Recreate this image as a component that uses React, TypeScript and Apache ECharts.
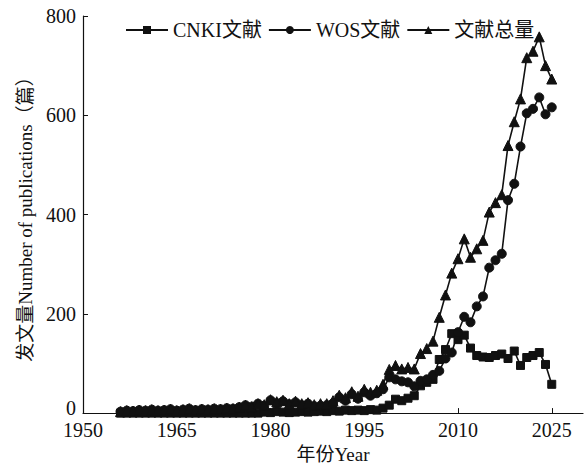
import React, { useEffect, useRef } from "react";
import * as echarts from "echarts";

const startYear = 1956;
const xTickValues = [1950, 1965, 1980, 1995, 2010, 2025];
const yTickValues = [0, 200, 400, 600, 800];

const cnkiValues = [
  0, 0, 0, 0, 0, 0, 0, 0, 0, 0,
  0, 0, 0, 0, 0, 0, 0, 0, 0, 0,
  0, 0, 0, 2, 1, 3, 2, 1, 2, 3,
  2, 3, 4, 3, 5, 4, 6, 5, 6, 5,
  7, 6, 10, 16, 28, 25, 30, 35, 55, 62,
  68, 108, 128, 160, 148, 157, 131, 116, 113, 112,
  116, 119, 110, 125, 96, 112, 116, 122, 98, 58,
];

const wosValues = [
  3, 5, 4, 6, 5, 7, 5, 6, 8, 5,
  7, 9, 6, 8, 7, 9, 8, 10, 9, 12,
  16, 13, 19, 15, 26, 20, 24, 18, 22, 16,
  19, 14, 15, 16, 20, 32, 25, 38, 29, 42,
  35, 40, 48, 72, 68, 64, 62, 54, 65, 68,
  77, 85, 110, 122, 163, 194, 183, 215, 235, 293,
  308, 321, 429, 462, 537, 604, 613, 636, 602, 616,
];

const totalValues = [
  3, 5, 4, 6, 5, 7, 5, 6, 8, 5,
  7, 9, 6, 8, 7, 9, 8, 10, 9, 12,
  16, 13, 19, 17, 27, 23, 26, 19, 24, 19,
  21, 17, 19, 19, 25, 36, 31, 43, 34, 48,
  42, 46, 58, 88, 96, 89, 92, 89, 120, 130,
  145, 193, 238, 282, 311, 351, 314, 331, 348, 405,
  424, 440, 539, 587, 633, 716, 729, 758, 700, 673,
];

const seriesNames = ["CNKI文献", "WOS文献", "文献总量"];

const toPairs = (vals: number[]) => vals.map((v, i) => [startYear + i, v]);

const FONT = "'Liberation Serif', 'Times New Roman', 'Noto Sans CJK SC', serif";
const INK = "#111";

export default function App() {
  const ref = useRef<HTMLDivElement>(null);
  useEffect(() => {
    if (!ref.current) return;
    const chart = echarts.init(ref.current, null, { renderer: "svg" });
    const mk = (name: string, vals: number[], symbol: string, size: number) => ({
      name,
      type: "line",
      data: toPairs(vals),
      symbol,
      symbolSize: size,
      showAllSymbol: true,
      lineStyle: { color: INK, width: 1.6 },
      itemStyle: { color: INK, borderColor: INK },
      emphasis: { disabled: true },
    });
    chart.setOption({
      animation: false,
      textStyle: { fontFamily: FONT, color: INK },
      grid: { left: 83, right: 3, top: 16, bottom: 51, containLabel: false },
      legend: {
        left: 125,
        top: 20,
        padding: 0,
        itemWidth: 42,
        itemHeight: 10,
        itemGap: 6,
        textStyle: { fontFamily: FONT, fontSize: 20, color: INK },
        data: seriesNames,
      },
      xAxis: {
        type: "value",
        min: 1950,
        max: 2030,
        interval: 15,
        name: "年份Year",
        nameLocation: "middle",
        nameGap: 29,
        nameTextStyle: { fontFamily: FONT, fontSize: 19, color: INK },
        axisLine: { lineStyle: { color: INK, width: 1.2 } },
        axisTick: { inside: true, length: 5, lineStyle: { color: INK }, customValues: xTickValues },
        axisLabel: {
          fontFamily: FONT,
          fontSize: 20,
          lineHeight: 18,
          color: INK,
          margin: 8,
          customValues: xTickValues,
          formatter: (v: number) => String(v),
        },
        splitLine: { show: false },
      },
      yAxis: {
        type: "value",
        min: 0,
        max: 800,
        interval: 200,
        name: "发文量Number of publications（篇）",
        nameLocation: "middle",
        nameGap: 46,
        nameTextStyle: { fontFamily: FONT, fontSize: 19, color: INK },
        axisLine: { show: true, lineStyle: { color: INK, width: 1.2 } },
        axisTick: { show: true, inside: true, length: 5, lineStyle: { color: INK }, customValues: yTickValues },
        axisLabel: {
          fontFamily: FONT,
          fontSize: 20,
          lineHeight: 14,
          color: INK,
          margin: 7,
          customValues: yTickValues,
          formatter: (v: number) => (v === 0 ? "{z|0}" : String(v)),
          rich: {
            z: { fontFamily: FONT, fontSize: 20, lineHeight: 14, color: INK, padding: [0, 0, 10, 0] },
          },
        },
        splitLine: { show: false },
      },
      series: [
        mk(seriesNames[0], cnkiValues, "rect", 8),
        mk(seriesNames[1], wosValues, "circle", 9),
        mk(seriesNames[2], totalValues, "triangle", 10),
      ],
    });
    return () => chart.dispose();
  }, []);
  return (
    <div
      ref={ref}
      style={{ position: "fixed", left: 0, top: 0, width: 586, height: 469, background: "#fff" }}
    />
  );
}
